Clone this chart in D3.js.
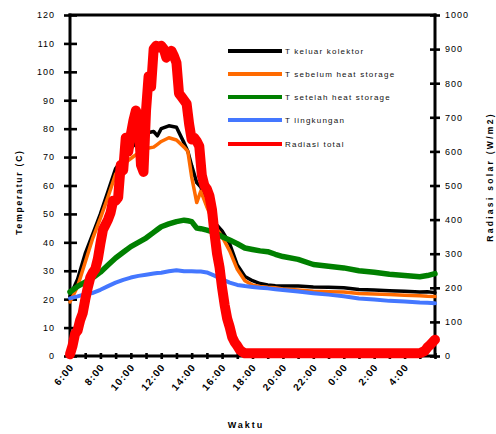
<!DOCTYPE html>
<html>
<head>
<meta charset="utf-8">
<script src="https://cdn.jsdelivr.net/npm/d3@7"></script>
<style>
  body { margin: 0; background: #fff; }
  svg { display: block; }
  text { font-family: "Liberation Sans", Arial, sans-serif; fill: #000; }
</style>
</head>
<body>
<svg id="chart" width="496" height="434"></svg>
<script>
// Time in minutes after 06:00 (temperature logger)
const menitSuhu = [0,30,60,90,120,150,180,210,240,270,
  300,330,345,360,390,420,450,465,480,500,
  516,540,570,600,630,660,690,720,750,780,
  810,840,900,960,1020,1080,1140,1200,1260,1320,
  1380,1410,1440];

// Temperatures (°C)
const tKeluarKolektor = [21,27,36,43,50,58,66,69.5,73,76,
  78.5,79,77.5,80,81,80.5,75,72,67,61,
  59.5,53,47,44,39.5,32,28,26.5,25.5,25,
  24.7,24.6,24.6,24.3,24.2,24,23.4,23.2,23,22.8,
  22.5,22.6,22.3];
const tSebelumStorage = [19,24.5,33,41.5,48.5,56,64,67.5,69.5,71.5,
  73,73.5,74.5,75.5,76.8,76,73.5,72,63,54,
  58,52.5,46,42,37,30.5,26.5,25,24.5,24.2,
  24,23.6,23.2,22.8,22.6,22.5,22,21.8,21.6,21.4,
  21.2,21,20.9];
const tSetelahStorage = [22.5,24.5,26,27.5,29.5,32,34.5,36.5,38.5,40,
  41.5,43.5,44.5,45.5,46.5,47.3,47.8,47.6,47.3,45,
  44.8,44.3,43.5,42,40.8,39.5,38,37.5,37,36.7,
  35.8,35,34,32.2,31.6,31,30,29.5,28.8,28.3,
  27.9,28.3,29];
const tLingkungan = [20.3,21,21.8,22.2,23.3,24.6,25.8,26.8,27.6,28.2,
  28.6,29,29.2,29.3,29.8,30.2,29.8,29.8,29.8,29.7,
  29.7,29.4,28.3,27,25.8,25,24.6,24.3,24,23.8,
  23.5,23.2,22.7,22.1,21.6,21,20.2,19.9,19.4,19.2,
  18.8,18.7,18.6];

// Time in minutes after 06:00 (pyranometer)
const menitRadiasi = [0,10,20,30,40,50,60,70,80,90,
  100,110,120,130,140,150,160,170,180,190,
  200,210,220,230,240,250,260,270,280,290,
  300,310,320,330,340,350,360,370,380,390,
  400,410,420,430,440,450,460,470,480,490,
  500,510,520,530,540,550,560,570,580,590,
  600,610,620,630,640,650,660,670,680,690,
  720,840,960,1080,1200,1320,1380,1400,1410,1420,1430,1440];

// Total solar radiation (W/m2)
const radiasiTotal = [5,30,65,75,105,125,165,200,230,245,
  255,285,330,370,385,400,420,455,455,465,
  560,545,640,600,650,690,720,700,560,540,
  720,820,790,900,910,905,910,900,875,890,
  895,880,860,770,760,750,740,680,635,640,
  630,615,530,500,490,470,430,360,300,260,
  200,150,110,85,55,40,30,18,12,8,
  8,8,8,8,8,8,8,15,25,32,40,48];

const namaSeri = ["T keluar kolektor", "T sebelum heat storage", "T setelah heat storage", "T lingkungan", "Radiasi total"];
const ticksSuhu = d3.range(0, 121, 10);
const ticksRadiasi = d3.range(0, 1001, 100);
const ticksJam = d3.range(0, 1441, 60);

const svg = d3.select("#chart");
const L = 70, R = 435, T = 15, B = 356;

const x = d3.scaleLinear().domain([0, 1440]).range([L, R]);
const ySuhu = d3.scaleLinear().domain([0, 120]).range([B, T]);
const yRad = d3.scaleLinear().domain([0, 1000]).range([B, T]);

// Left axis
const gl = svg.append("g").attr("transform", `translate(${L},0)`)
  .call(d3.axisLeft(ySuhu).tickValues(ticksSuhu).tickFormat(d3.format("d"))
    .tickSizeInner(6).tickSizeOuter(0).tickPadding(9));
gl.selectAll(".tick line").attr("x1", -6).attr("x2", 7).attr("stroke-width", 2.6);
gl.selectAll(".tick text").style("font-size", "9px").style("letter-spacing", "1px");

// Right axis
const gr = svg.append("g").attr("transform", `translate(${R},0)`)
  .call(d3.axisRight(yRad).tickValues(ticksRadiasi).tickFormat(d3.format("d"))
    .tickSizeInner(5).tickSizeOuter(0).tickPadding(5));
gr.selectAll(".tick line").attr("x1", -5).attr("x2", 5).attr("stroke-width", 2.6);
gr.selectAll(".tick text").style("font-size", "9px").style("letter-spacing", "1px");

// Bottom axis
const gb = svg.append("g").attr("transform", `translate(0,${B})`)
  .call(d3.axisBottom(x).tickValues(ticksJam).tickSizeInner(3).tickSizeOuter(0).tickFormat(""));
gb.selectAll(".tick line").attr("y1", -3).attr("y2", 3).attr("stroke-width", 2.6);

svg.selectAll(".domain").remove();

// Frame
const frame = svg.append("g").attr("stroke", "#000").attr("stroke-width", 3).attr("stroke-linecap", "square");
frame.append("line").attr("x1", L).attr("x2", L).attr("y1", T).attr("y2", B);
frame.append("line").attr("x1", R).attr("x2", R).attr("y1", T).attr("y2", B);
frame.append("line").attr("x1", L).attr("x2", R).attr("y1", B).attr("y2", B);
frame.append("line").attr("x1", L).attr("x2", R).attr("y1", T).attr("y2", T);

// Rotated hour labels every two hours
const labelJam = ticksJam.filter(m => m % 120 === 0 && m < 1440);
svg.append("g").selectAll("text").data(labelJam).join("text")
  .attr("transform", m => `translate(${x(m) + 2},${B + 9}) rotate(-50)`)
  .attr("text-anchor", "end")
  .attr("dy", "0.35em")
  .style("font-size", "10px")
  .style("font-weight", "bold")
  .style("letter-spacing", "1.2px")
  .text(m => `${(6 + m / 60) % 24}:00`);

// Axis titles
svg.append("text").attr("x", 246).attr("y", 428).attr("text-anchor", "middle")
  .style("font-size", "9px").style("font-weight", "bold").style("letter-spacing", "2px").text("Waktu");
svg.append("text").attr("transform", "translate(22,192) rotate(-90)").attr("text-anchor", "middle")
  .style("font-size", "8.5px").style("font-weight", "bold").style("letter-spacing", "1.8px").text("Temperatur (C)");
svg.append("text").attr("transform", "translate(493,177) rotate(-90)").attr("text-anchor", "middle")
  .style("font-size", "8.5px").style("font-weight", "bold").style("letter-spacing", "2.3px").text("Radiasi solar (W/m2)");

// Series
const seri = [
  { nilai: tKeluarKolektor, waktu: menitSuhu, y: ySuhu, warna: "#000000", tebal: 3.5 },
  { nilai: tSebelumStorage, waktu: menitSuhu, y: ySuhu, warna: "#FF6A00", tebal: 3.5 },
  { nilai: tSetelahStorage, waktu: menitSuhu, y: ySuhu, warna: "#008000", tebal: 5.5 },
  { nilai: tLingkungan, waktu: menitSuhu, y: ySuhu, warna: "#4477FF", tebal: 4 },
  { nilai: radiasiTotal, waktu: menitRadiasi, y: yRad, warna: "#FF0000", tebal: 10 }
];

seri.forEach(s => {
  const line = d3.line().x((d, i) => x(s.waktu[i])).y(d => s.y(d));
  svg.append("path").datum(s.nilai)
    .attr("fill", "none").attr("stroke", s.warna).attr("stroke-width", s.tebal)
    .attr("stroke-linejoin", "round").attr("stroke-linecap", "round")
    .attr("d", line);
});

// Legend
const lg = svg.append("g");
const legY = [51, 74, 97, 120, 144];
namaSeri.forEach((n, i) => {
  lg.append("line").attr("x1", 228).attr("x2", 282).attr("y1", legY[i]).attr("y2", legY[i])
    .attr("stroke", seri[i].warna).attr("stroke-width", 4);
  lg.append("text").attr("x", 285).attr("y", legY[i]).attr("dy", "0.35em")
    .style("font-size", "8px").style("letter-spacing", "1.2px").style("fill", "#111").text(n);
});
</script>
</body>
</html>
